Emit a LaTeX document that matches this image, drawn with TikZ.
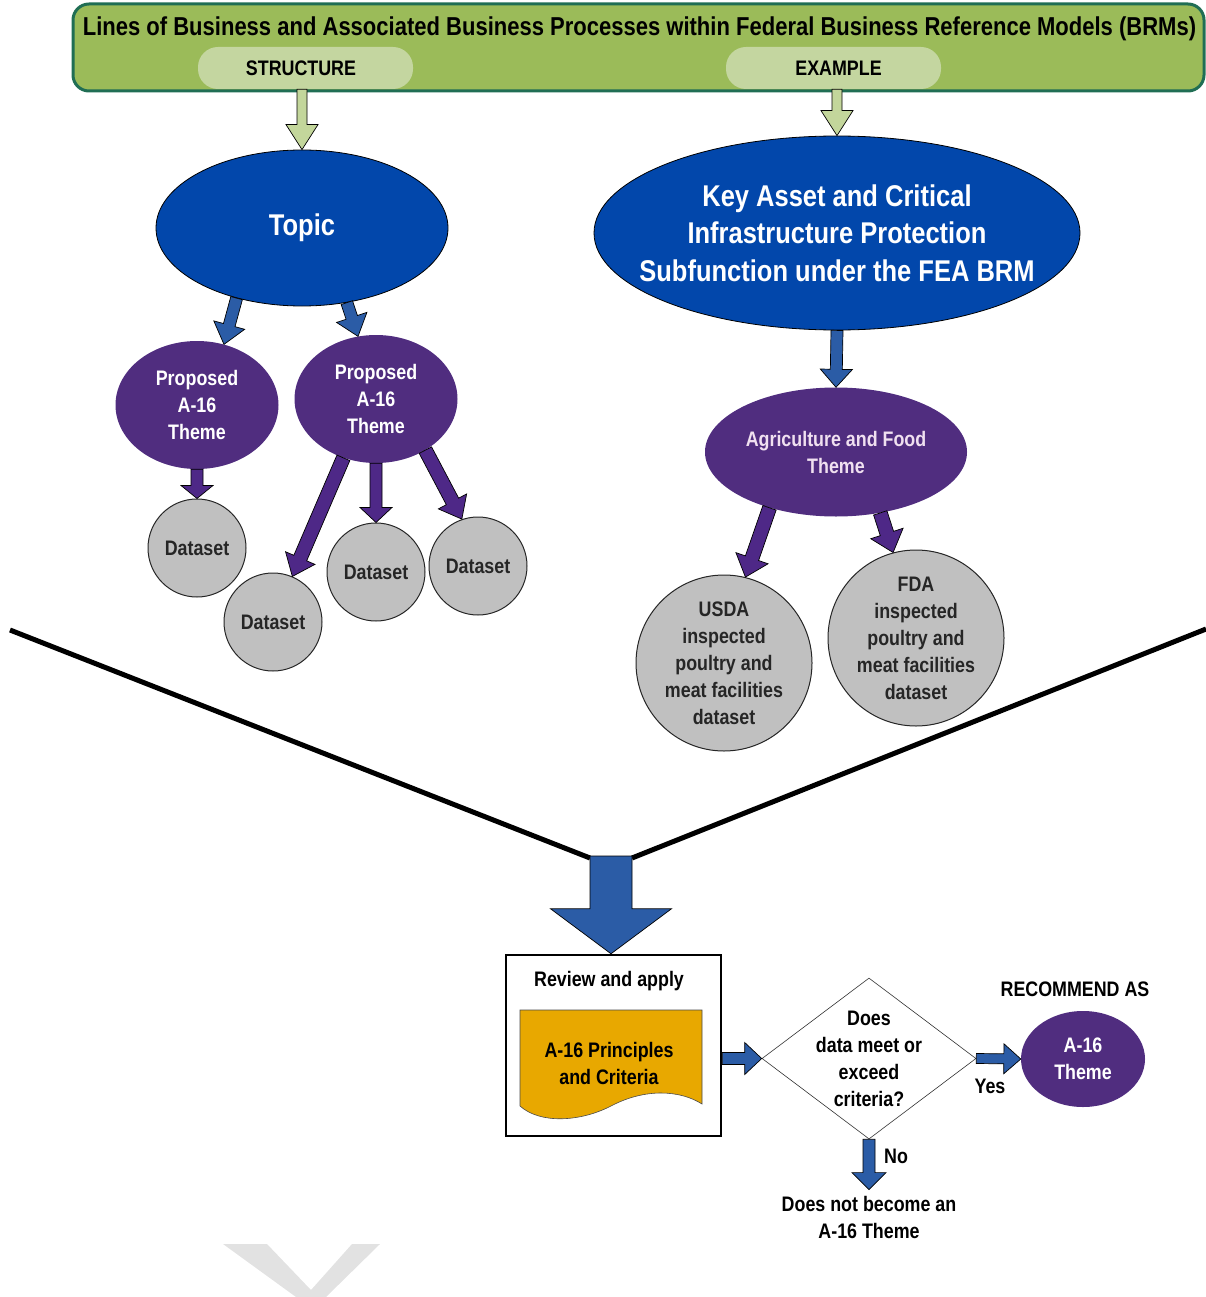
\documentclass[tikz,border=0pt]{standalone}
\usepackage{fontspec}
\setmainfont{Liberation Sans}[FakeStretch=0.85]
\usetikzlibrary{shapes.geometric,calc}

\definecolor{bannergreen}{RGB}{155,187,89}
\definecolor{bannerline}{RGB}{32,110,84}
\definecolor{pillgreen}{RGB}{196,214,160}
\definecolor{arrowgreen}{RGB}{195,214,155}
\definecolor{topicblue}{RGB}{2,71,171}
\definecolor{arrowblue}{RGB}{43,92,166}
\definecolor{themepurple}{RGB}{80,45,127}
\definecolor{arrowpurple}{RGB}{78,40,135}
\definecolor{dsgray}{RGB}{192,192,192}
\definecolor{docorange}{RGB}{232,168,0}
\definecolor{wmgray}{RGB}{226,226,226}

\tikzset{ax/.style={shift={(\p1)},rotate=\n1}}
% block arrow: colour, half shaft, half head, head length, from, to
\newcommand\blockarr[6]{%
  \draw[fill=#1,line width=0.7pt,line join=miter]
    let \p1=(#5), \p2=(#6), \n1={atan2(\y2-\y1,\x2-\x1)}, \n2={veclen(\x2-\x1,\y2-\y1)} in
    ([ax]0,#2) -- ([ax]\n2-#4,#2) -- ([ax]\n2-#4,#3) -- ([ax]\n2,0)
    -- ([ax]\n2-#4,-#3) -- ([ax]\n2-#4,-#2) -- ([ax]0,-#2) -- cycle;}

\begin{document}
\begin{tikzpicture}
  [x=1pt,y=-1pt,
   every node/.style={font=\bfseries\fontsize{21}{27}\selectfont,align=center,inner sep=1pt},
   banner/.style={rectangle,rounded corners=16,draw=bannerline,line width=3pt,fill=bannergreen,
     minimum width=1131,minimum height=87,inner sep=0},
   pill/.style={rectangle,rounded corners=20,fill=pillgreen,minimum width=215,minimum height=42,inner sep=0},
   bigblue/.style={ellipse,draw=black,line width=0.8pt,fill=topicblue,inner sep=0,text=white,
     font=\bfseries\fontsize{30}{37.5}\selectfont},
   bigtext/.style={text=white,font=\bfseries\fontsize{30}{37.5}\selectfont},
   theme/.style={ellipse,fill=themepurple,inner sep=0,text=white},
   dataset/.style={circle,draw=black!85,line width=1pt,fill=dsgray,inner sep=0,minimum size=98,text=black!85},
   dstext/.style={text=black!85},
   revbox/.style={rectangle,draw=black,line width=2.5pt,fill=white,minimum width=215,minimum height=181},
   decision/.style={diamond,draw=black!80,line width=0.6pt,fill=white,minimum width=214,minimum height=161,inner sep=0}]
  \useasboundingbox (0,0) rectangle (1206,1297);

  % scrap of a watermark
  \fill[wmgray] (223,1244) -- (267,1244) -- (311,1290) -- (352,1244) -- (380,1244)
    -- (326,1297) -- (296,1297) -- cycle;

  % funnel
  \coordinate (fl) at (10,630);
  \coordinate (fr) at (1206,629);
  \coordinate (shl) at (590,858);
  \coordinate (shr) at (632,858);
  \coordinate (funnel) at (611,856);
  \draw[line width=5pt] (fl) -- (shl);
  \draw[line width=5pt] (shr) -- (fr);

  % banner
  \node[banner] (banner) at (638.5,47.5) {};
  \node[pill,label={[xshift=-4.5]center:STRUCTURE}] (struct) at (305.5,68) {};
  \node[pill,label={[xshift=5]center:EXAMPLE}] (examp) at (833.5,68) {};
  \node (title) at (639.5,29) {\fontsize{25.9}{30}\selectfont Lines of Business and Associated Business Processes within Federal Business Reference Models (BRMs)};

  % structure side
  \node[bigblue,minimum width=292,minimum height=156] (topic) at (302,228) {Topic};
  \node[theme,minimum width=163,minimum height=128] (pa) at (197,405) {Proposed\\A-16\\Theme};
  \node[theme,minimum width=163,minimum height=128] (pb) at (376,399) {Proposed\\A-16\\Theme};
  \node[dataset] (da) at (197,548) {Dataset};
  \node[dataset] (db) at (273,622) {Dataset};
  \node[dataset] (dc) at (376,572) {Dataset};
  \node[dataset] (dd) at (478,566) {Dataset};

  % example side
  \node[bigblue,minimum width=486,minimum height=194,
    label={[bigtext]center:{Key Asset and Critical\\Infrastructure Protection\\Subfunction under the FEA BRM}}] (kacip) at (837,233) {};
  \node[theme,minimum width=262,minimum height=129,
    label={[text=white!88!violet]center:{Agriculture and Food\\Theme}}] (agri) at (836,452) {};
  \node[dataset,minimum size=176,
    label={[dstext]center:{USDA\\inspected\\poultry and\\meat facilities\\dataset}}] (usda) at (724,663) {};
  \node[dataset,minimum size=176,
    label={[dstext]center:{FDA\\inspected\\poultry and\\meat facilities\\dataset}}] (fda) at (916,638) {};

  % review step
  \node[revbox] (review) at (613.5,1045.5) {};
  \node (revtxt) at (609,981) {Review and apply};
  \draw[fill=docorange,draw=black!70,line width=0.6pt] (520,1010) -- (702,1010) -- (702,1104)
    .. controls (680,1090) and (645,1088) .. (611,1106)
    .. controls (580,1122) and (540,1124) .. (520,1106) -- cycle;
  \node (crit) at (609,1063) {A-16 Principles\\and Criteria};
  \node[decision,label={center:{Does\\data meet or\\exceed\\criteria?}}] (dec) at (869,1058.5) {};
  \node[theme,minimum width=124,minimum height=96] (a16) at (1083,1059) {A-16\\Theme};
  \node (recom) at (1075,989) {RECOMMEND AS};
  \node (yes) at (990,1086) {Yes};
  \node (no) at (896,1156) {No};
  \node (nottheme) at (869,1217) {Does not become an\\A-16 Theme};

  % arrows
  \blockarr{arrowgreen}{5}{16}{25}{topic.north |- struct.south}{topic.north}
  \blockarr{arrowgreen}{5}{16}{25}{kacip.north |- examp.south}{kacip.north}
  \blockarr{arrowblue}{6}{16}{20}{topic.227}{pa.66}
  \blockarr{arrowblue}{6}{16}{20}{topic.301}{pb.106}
  \blockarr{arrowblue}{6}{16}{18}{kacip.south}{agri.north}
  \blockarr{arrowpurple}{6}{16}{13}{pa.south}{da.north}
  \blockarr{arrowpurple}{7}{16}{20}{pb.241}{db.67}
  \blockarr{arrowpurple}{6}{16}{15}{pb.south}{dc.north}
  \blockarr{arrowpurple}{7}{16}{20}{pb.314}{dd.109}
  \blockarr{arrowpurple}{7}{17}{20}{agri.220}{usda.76}
  \blockarr{arrowpurple}{7}{17}{20}{agri.306}{fda.105}
  \blockarr{arrowblue}{21}{60.5}{45}{funnel}{review.north -| funnel}
  \blockarr{arrowblue}{6}{16}{17}{review.east |- dec.west}{dec.west}
  \blockarr{arrowblue}{5}{15}{17}{dec.east}{a16.west}
  \blockarr{arrowblue}{6}{17}{17}{dec.south}{[yshift=5]nottheme.north}
\end{tikzpicture}
\end{document}
